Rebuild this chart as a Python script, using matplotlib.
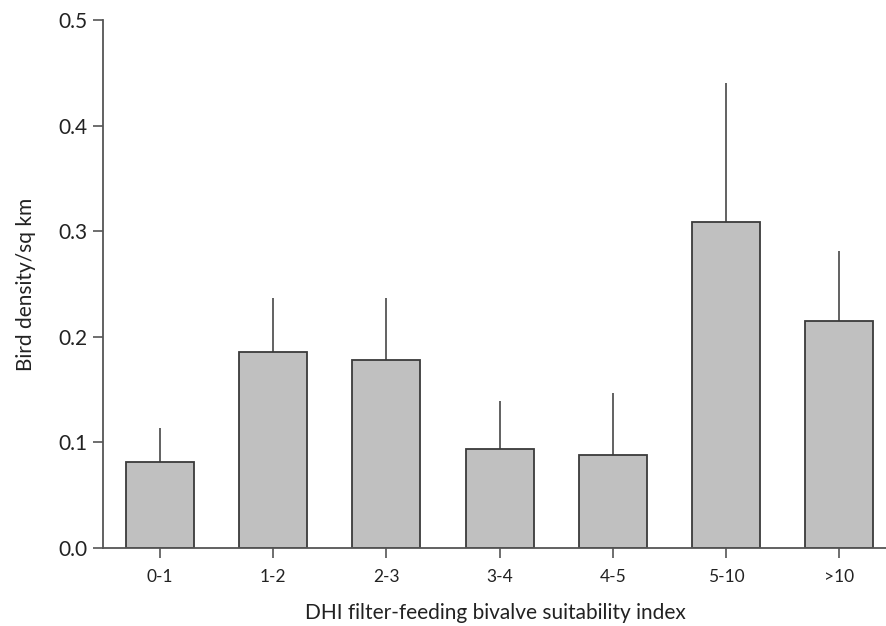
import matplotlib
matplotlib.use("Agg")
import matplotlib.pyplot as plt

categories = ["0-1", "1-2", "2-3", "3-4", "4-5", "5-10", ">10"]
density = [0.081, 0.186, 0.178, 0.094, 0.088, 0.309, 0.215]
upper_err = [0.033, 0.051, 0.059, 0.045, 0.059, 0.131, 0.066]

plt.rcParams['font.family'] = ['Lato', 'DejaVu Sans']

fig = plt.figure(figsize=(8.87, 6.26), dpi=100)
ax = fig.add_axes([103/887, 1 - 548/626, (887 - 103)/887, (548 - 20)/626])

x = list(range(len(categories)))
ax.bar(x, density, width=0.6, color="#c0c0c0", edgecolor="#3a3a3a", linewidth=1.3, zorder=2)
ax.errorbar(x, density, yerr=[[0]*len(x), upper_err], fmt="none", ecolor="#555555",
            elinewidth=1.3, capsize=0, zorder=1)

ax.set_xlim(-0.503, 6.42)
ax.set_ylim(0, 0.5)
ax.set_yticks([0, 0.1, 0.2, 0.3, 0.4, 0.5])
ax.set_yticklabels(["0.0", "0.1", "0.2", "0.3", "0.4", "0.5"], fontsize=15)
ax.set_xticks(x)
ax.set_xticklabels(categories, fontsize=12.5)

for s in ["top", "right"]:
    ax.spines[s].set_visible(False)
for s in ["left", "bottom"]:
    ax.spines[s].set_color("#555555")
    ax.spines[s].set_linewidth(1.3)
ax.tick_params(axis="both", direction="out", length=7, width=1.2, color="#555555", colors="#222222")
ax.tick_params(axis="y", pad=4)
ax.tick_params(axis="x", pad=8)

ax.set_ylabel("Bird density/sq km", fontsize=15, color="#222222", labelpad=16)
ax.set_xlabel("DHI filter-feeding bivalve suitability index", fontsize=15, color="#222222", labelpad=13)

fig.savefig("out.png", dpi=100)
